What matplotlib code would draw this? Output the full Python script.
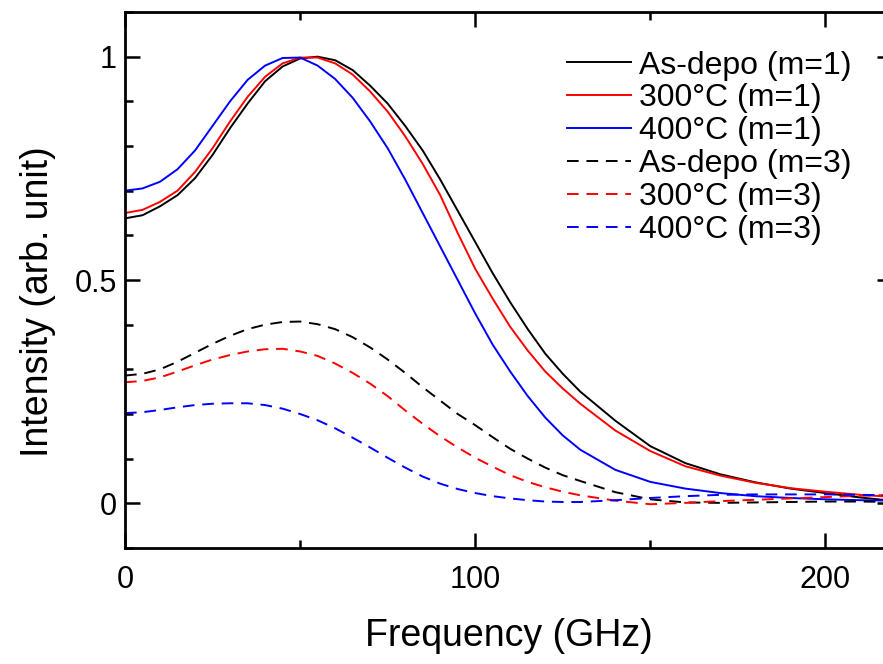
"""Normalised intensity spectra, m=1 and m=3, for as-deposited and annealed films."""

import matplotlib
matplotlib.use("Agg")
import matplotlib.pyplot as plt
from matplotlib.ticker import MultipleLocator

freq = [0, 5, 10, 15, 20, 25, 30, 35, 40, 45, 50, 55, 60, 65, 70, 75, 80, 85, 90,
        95, 100, 105, 110, 115, 120, 125, 130, 140, 150, 160, 170, 180, 190, 200,
        210, 220]

asdepo_m1 = [0.638, 0.645, 0.665, 0.690, 0.728, 0.780, 0.840, 0.895, 0.945, 0.978,
             0.996, 1.000, 0.992, 0.970, 0.935, 0.895, 0.845, 0.790, 0.725, 0.655,
             0.585, 0.515, 0.450, 0.390, 0.335, 0.290, 0.250, 0.185, 0.128, 0.090,
             0.065, 0.047, 0.033, 0.023, 0.013, 0.005]
c300_m1 = [0.650, 0.657, 0.675, 0.700, 0.742, 0.795, 0.855, 0.910, 0.955, 0.985,
           0.998, 0.998, 0.985, 0.960, 0.922, 0.877, 0.822, 0.760, 0.690, 0.605,
           0.525, 0.458, 0.395, 0.342, 0.295, 0.257, 0.223, 0.163, 0.117, 0.083,
           0.062, 0.046, 0.034, 0.026, 0.019, 0.014]
c400_m1 = [0.700, 0.705, 0.720, 0.748, 0.790, 0.845, 0.900, 0.948, 0.980, 0.997,
           0.998, 0.980, 0.950, 0.908, 0.855, 0.795, 0.725, 0.650, 0.575, 0.500,
           0.425, 0.355, 0.295, 0.240, 0.192, 0.152, 0.120, 0.075, 0.048, 0.033,
           0.023, 0.016, 0.012, 0.009, 0.007, 0.006]
asdepo_m3 = [0.286, 0.290, 0.300, 0.317, 0.337, 0.357, 0.375, 0.390, 0.400, 0.406,
             0.407, 0.401, 0.390, 0.372, 0.349, 0.322, 0.292, 0.260, 0.230, 0.200,
             0.175, 0.148, 0.122, 0.100, 0.080, 0.063, 0.050, 0.025, 0.009, 0.002,
             0.001, 0.002, 0.003, 0.004, 0.004, 0.003]
c300_m3 = [0.271, 0.274, 0.282, 0.295, 0.309, 0.322, 0.332, 0.340, 0.345, 0.346,
           0.340, 0.330, 0.313, 0.292, 0.268, 0.240, 0.208, 0.178, 0.150, 0.125,
           0.102, 0.082, 0.063, 0.048, 0.036, 0.026, 0.018, 0.006, -0.002, 0.001,
           0.005, 0.008, 0.011, 0.014, 0.017, 0.019]
c400_m3 = [0.202, 0.204, 0.209, 0.215, 0.220, 0.223, 0.224, 0.224, 0.220, 0.212,
           0.200, 0.186, 0.168, 0.147, 0.125, 0.102, 0.080, 0.060, 0.044, 0.032,
           0.023, 0.016, 0.011, 0.007, 0.004, 0.003, 0.003, 0.007, 0.012, 0.016,
           0.019, 0.020, 0.020, 0.020, 0.019, 0.018]

labels = ["As-depo (m=1)", "300°C (m=1)", "400°C (m=1)",
          "As-depo (m=3)", "300°C (m=3)", "400°C (m=3)"]

plt.rcParams["font.family"] = ["Liberation Sans", "DejaVu Sans"]

fig = plt.figure(figsize=(8.83, 6.64), dpi=100)
ax = fig.add_axes([125 / 883, 116 / 664, 767 / 883, 536 / 664])

series = [asdepo_m1, c300_m1, c400_m1, asdepo_m3, c300_m3, c400_m3]
colors = ["black", "red", "blue"] * 2
for i, (ys, lab, col) in enumerate(zip(series, labels, colors)):
    if i < 3:
        ax.plot(freq, ys, color=col, lw=1.4, label=lab)
    else:
        ax.plot(freq, ys, color=col, lw=1.4, dashes=(6, 4), label=lab)

ax.set_xlim(0, 219)
ax.set_ylim(-0.1, 1.1)
ax.xaxis.set_major_locator(MultipleLocator(100))
ax.xaxis.set_minor_locator(MultipleLocator(50))
ax.yaxis.set_major_locator(MultipleLocator(0.5))
ax.yaxis.set_minor_locator(MultipleLocator(0.1))
ax.set_yticks([0, 0.5, 1])
ax.set_yticklabels(["0", "0.5", "1"])

for s in ax.spines.values():
    s.set_linewidth(2.0)
ax.tick_params(which="both", direction="in", top=True, right=True, width=1.8,
               labelsize=22)
ax.tick_params(which="major", length=11)
ax.tick_params(which="minor", length=6)
ax.tick_params(axis="x", pad=12)
ax.tick_params(axis="y", pad=6)

ax.set_xlabel("Frequency (GHz)", fontsize=27, labelpad=17)
ax.set_ylabel("Intensity (arb. unit)", fontsize=27)
ax.yaxis.set_label_coords(-0.09, 0.459)

ax.legend(loc="upper right", bbox_to_anchor=(726 / 767, 0.928), frameon=False,
          fontsize=23, handlelength=2.0, handletextpad=0.25, labelspacing=0.09,
          borderpad=0, borderaxespad=0)

fig.savefig("out.png", dpi=100)
